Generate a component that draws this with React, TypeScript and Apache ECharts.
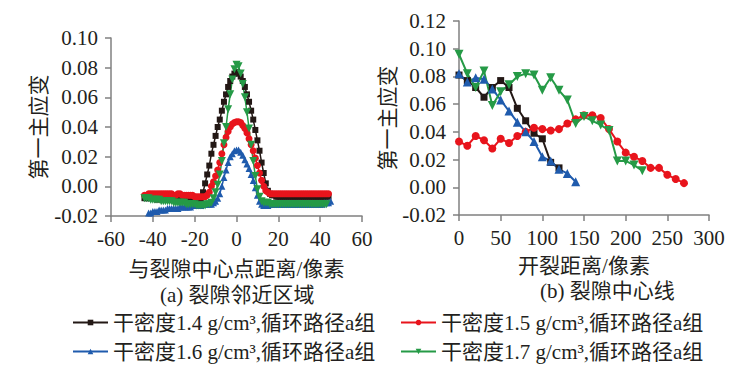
import React, { useEffect, useRef } from "react";
import * as echarts from "echarts";

const seriesNames = [
  "干密度1.4 g/cm³,循环路径a组",
  "干密度1.5 g/cm³,循环路径a组",
  "干密度1.6 g/cm³,循环路径a组",
  "干密度1.7 g/cm³,循环路径a组",
];
const colors = ["#231815", "#e8141c", "#1f5bad", "#259a46"];

// (a) 裂隙邻近区域: x starts + step 1 pixel
const aStart = [-44, -44, -42, -44];
const aBlack = [
  -0.008, -0.008, -0.008, -0.008, -0.008, -0.008, -0.009, -0.008, -0.008, -0.008,
  -0.008, -0.009, -0.009, -0.008, -0.008, -0.009, -0.009, -0.009, -0.009, -0.009,
  -0.009, -0.009, -0.009, -0.010, -0.010, -0.010, -0.010,
  -0.009, -0.004, 0.002, 0.008, 0.014, 0.022, 0.028, 0.034, 0.040, 0.045, 0.051, 0.057,
  0.062, 0.067, 0.071, 0.074, 0.076, 0.077, 0.076, 0.074, 0.071, 0.067, 0.062, 0.057,
  0.051, 0.045, 0.038, 0.031, 0.024, 0.016, 0.009, 0.002, -0.003, -0.005, -0.006,
  -0.006, -0.007, -0.007, -0.007, -0.007, -0.007, -0.007, -0.007, -0.007, -0.007,
  -0.007, -0.007, -0.007, -0.007, -0.007, -0.007, -0.007, -0.007, -0.007, -0.007,
  -0.007, -0.007, -0.007, -0.007, -0.007, -0.007, -0.007,
];
const aRed = [
  -0.006, -0.006, -0.005, -0.005, -0.005, -0.005, -0.005, -0.005, -0.005, -0.005,
  -0.005, -0.005, -0.005, -0.005, -0.006, -0.006, -0.005, -0.005, -0.006, -0.006,
  -0.006, -0.006, -0.006, -0.006, -0.007, -0.007, -0.007, -0.007, -0.007, -0.007, -0.006,
  -0.004, 0.000, 0.003, 0.007, 0.011, 0.016, 0.022, 0.028, 0.033, 0.037, 0.040, 0.042,
  0.043, 0.0435, 0.0435, 0.043, 0.041, 0.039, 0.036, 0.032, 0.028, 0.024, 0.019, 0.014,
  0.009, 0.004, 0.000, -0.003, -0.004, -0.005,
  -0.005, -0.005, -0.005, -0.005, -0.005, -0.005, -0.005, -0.005, -0.005, -0.005,
  -0.005, -0.005, -0.005, -0.005, -0.005, -0.005, -0.005, -0.005, -0.005, -0.005,
  -0.005, -0.005, -0.005, -0.005, -0.005, -0.005, -0.005, -0.005,
];
const aBlue = [
  -0.018, -0.018, -0.017, -0.017, -0.017, -0.016, -0.016, -0.016, -0.016, -0.015,
  -0.015, -0.015, -0.015, -0.015, -0.015, -0.014, -0.014, -0.014, -0.014, -0.014,
  -0.014, -0.013, -0.013, -0.013, -0.013, -0.013, -0.012, -0.012, -0.012, -0.012,
  -0.012, -0.011, -0.010, -0.008, -0.005, 0.000, 0.006, 0.011, 0.016, 0.020, 0.022,
  0.024, 0.0245, 0.0245, 0.023, 0.021, 0.018, 0.015, 0.012, 0.008, 0.004, -0.001,
  -0.006, -0.010, -0.012, -0.013,
  -0.013, -0.013, -0.012, -0.012, -0.012, -0.012, -0.012, -0.012, -0.012, -0.012,
  -0.012, -0.012, -0.012, -0.012, -0.012, -0.012, -0.012, -0.012, -0.012, -0.012,
  -0.012, -0.012, -0.012, -0.012, -0.012, -0.012, -0.012, -0.012, -0.011, -0.011,
  -0.011, -0.010,
];
const aGreen = [
  -0.008, -0.008, -0.008, -0.009, -0.009, -0.009, -0.009, -0.009, -0.010, -0.010,
  -0.010, -0.010, -0.010, -0.010, -0.011, -0.011, -0.011, -0.011, -0.011, -0.011,
  -0.012, -0.012, -0.012, -0.012, -0.012, -0.013, -0.013, -0.013, -0.013, -0.013,
  -0.012, -0.012, -0.011,
  -0.008, -0.004, 0.001, 0.008, 0.017, 0.029, 0.040, 0.052, 0.062, 0.072, 0.079,
  0.082, 0.081, 0.076, 0.069, 0.060, 0.050, 0.039, 0.028, 0.017, 0.007, -0.002,
  -0.007, -0.010, -0.011,
  -0.011, -0.011, -0.012, -0.012, -0.012, -0.012, -0.012, -0.012, -0.012, -0.012,
  -0.012, -0.012, -0.012, -0.012, -0.012, -0.012, -0.012, -0.012, -0.012, -0.012,
  -0.012, -0.012, -0.012, -0.012, -0.012, -0.012, -0.012, -0.012, -0.012, -0.012,
];

// (b) 裂隙中心线
const bX = [0, 10, 20, 30, 40, 50, 60, 70, 80, 90, 100, 110, 120, 130, 140, 150, 160, 170, 180, 190, 200, 210, 220, 230, 240, 250, 260, 270];
const bBlack = [0.081, 0.077, 0.072, 0.065, 0.072, 0.077, 0.072, 0.057, 0.048, 0.039, 0.035, 0.018, 0.014];
const bRed = [0.033, 0.030, 0.037, 0.034, 0.028, 0.035, 0.032, 0.037, 0.040, 0.043, 0.042, 0.041, 0.042, 0.046, 0.049, 0.052, 0.052, 0.050, 0.042, 0.033, 0.025, 0.022, 0.019, 0.014, 0.014, 0.009, 0.006, 0.003];
const bBlue = [0.082, 0.076, 0.079, 0.078, 0.071, 0.063, 0.055, 0.047, 0.040, 0.033, 0.022, 0.019, 0.013, 0.010, 0.004];
const bGreen = [0.096, 0.082, 0.072, 0.084, 0.059, 0.069, 0.074, 0.080, 0.082, 0.081, 0.070, 0.079, 0.070, 0.063, 0.046, 0.051, 0.048, 0.045, 0.041, 0.019, 0.019, 0.016, 0.012];

const symbols = ["rect", "circle", "triangle", "triangle"];
const rotates = [0, 0, 0, 180];
const aSizes = [6, 7, 7, 8];
const bSizes = [7, 8, 9, 9];

const FONT = "'Liberation Serif', 'Noto Sans CJK SC', serif";
const TXT = "#231f20";
const AXIS = "#808080";

export default function App() {
  const ref = useRef<HTMLDivElement>(null);
  useEffect(() => {
    document.body.style.margin = "0";
    const chart = echarts.init(ref.current!, null, { renderer: "svg" });
    const aData = [aBlack, aRed, aBlue, aGreen].map((arr, k) => arr.map((v, i) => [aStart[k] + i, v]));
    const bData = [bBlack, bRed, bBlue, bGreen].map((arr) => arr.map((v, i) => [bX[i], v]));

    const axisCommon = {
      axisLine: { onZero: false, lineStyle: { color: AXIS, width: 1.5 } },
      axisTick: { show: true, length: 6, lineStyle: { color: AXIS, width: 1.5 } },
      splitLine: { show: false },
      nameTextStyle: { fontFamily: FONT, fontSize: 21, color: TXT },
    };
    const yFmt = (v: number) => v.toFixed(2);

    const series: any[] = [];
    for (let k = 0; k < 4; k++) {
      series.push({
        type: "line",
        name: seriesNames[k],
        xAxisIndex: 0,
        yAxisIndex: 0,
        data: aData[k],
        symbol: symbols[k],
        symbolRotate: rotates[k],
        symbolSize: aSizes[k],
        showAllSymbol: true,
        lineStyle: { color: colors[k], width: 1.5 },
        itemStyle: { color: colors[k] },
      });
    }
    for (let k = 0; k < 4; k++) {
      series.push({
        type: "line",
        name: seriesNames[k],
        xAxisIndex: 1,
        yAxisIndex: 1,
        data: bData[k],
        symbol: symbols[k],
        symbolRotate: rotates[k],
        symbolSize: bSizes[k],
        showAllSymbol: true,
        lineStyle: { color: colors[k], width: 2 },
        itemStyle: { color: colors[k] },
      });
    }

    const legendPos = [
      [72, 312],
      [400, 312],
      [72, 341],
      [400, 341],
    ];
    const legends = seriesNames.map((n, k) => ({
      data: [n],
      left: legendPos[k][0],
      top: legendPos[k][1],
      itemWidth: 35,
      itemHeight: 7,
      padding: 0,
      textStyle: { fontFamily: FONT, fontSize: 21, color: TXT },
    }));

    chart.setOption({
      animation: false,
      backgroundColor: "#ffffff",
      grid: [
        { left: 111, top: 38, width: 251, height: 178 },
        { left: 459, top: 21, width: 250, height: 194 },
      ],
      xAxis: [
        {
          ...axisCommon,
          gridIndex: 0,
          type: "value",
          min: -60,
          max: 60,
          interval: 20,
          name: "与裂隙中心点距离/像素",
          nameLocation: "middle",
          nameGap: 42,
          axisLabel: { fontFamily: FONT, fontSize: 21, color: TXT, margin: 12 },
        },
        {
          ...axisCommon,
          gridIndex: 1,
          type: "value",
          min: 0,
          max: 300,
          interval: 50,
          name: "开裂距离/像素",
          nameLocation: "middle",
          nameGap: 40,
          axisLabel: { fontFamily: FONT, fontSize: 21, color: TXT, margin: 12 },
        },
      ],
      yAxis: [
        {
          ...axisCommon,
          gridIndex: 0,
          type: "value",
          min: -0.02,
          max: 0.1,
          interval: 0.02,
          name: "第一主应变",
          nameLocation: "middle",
          nameGap: 62,
          axisLabel: { fontFamily: FONT, fontSize: 21, color: TXT, margin: 13, formatter: yFmt },
        },
        {
          ...axisCommon,
          gridIndex: 1,
          type: "value",
          min: -0.02,
          max: 0.12,
          interval: 0.02,
          name: "第一主应变",
          nameLocation: "middle",
          nameGap: 53,
          axisLabel: { fontFamily: FONT, fontSize: 21, color: TXT, margin: 13, formatter: yFmt },
        },
      ],
      legend: legends,
      graphic: [
        {
          type: "text",
          left: 160,
          top: 284,
          style: { text: "(a) 裂隙邻近区域", fontFamily: FONT, fontSize: 21, fill: TXT },
        },
        {
          type: "text",
          left: 540,
          top: 280,
          style: { text: "(b) 裂隙中心线", fontFamily: FONT, fontSize: 21, fill: TXT },
        },
      ],
      series,
    });
    return () => chart.dispose();
  }, []);
  return <div ref={ref} style={{ width: 751, height: 384 }} />;
}
